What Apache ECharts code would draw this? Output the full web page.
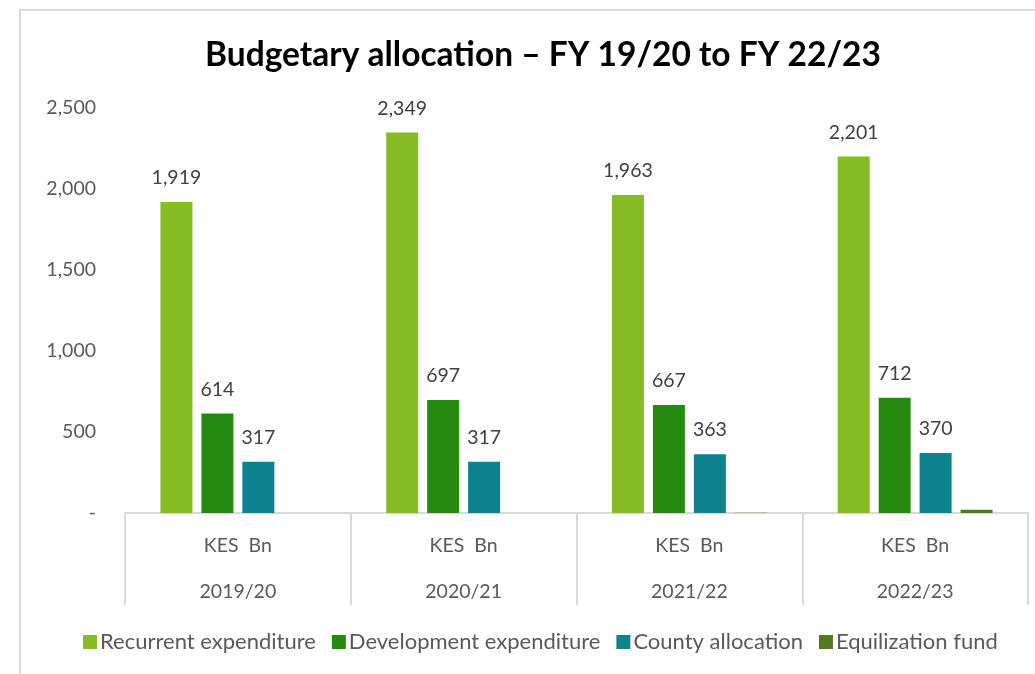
<!DOCTYPE html>
<html>
<head>
<meta charset="utf-8">
<script src="https://cdn.jsdelivr.net/npm/echarts@6/dist/echarts.min.js"></script>
<style>
  html, body { margin: 0; padding: 0; background: #fff; }
  #chart { width: 1035px; height: 674px; }
</style>
</head>
<body>
<div id="chart"></div>
<script>
// Budget figures, KES billions
const years = ['2019/20', '2020/21', '2021/22', '2022/23'];
const unitLabel = 'KES  Bn';
const recurrent = [1919, 2349, 1963, 2201];
const development = [614, 697, 667, 712];
const county = [317, 317, 363, 370];
const equalization = [0, 0, 1, 20];
const yTicks = [0, 500, 1000, 1500, 2000, 2500];

const FONT = 'Lato, "Open Sans", sans-serif';
const fmt = v => v === 0 ? '-' : v.toLocaleString('en-US');

const labelStyle = {
  show: true,
  position: 'top',
  distance: 14,
  color: '#404040',
  fontSize: 19.5,
  fontFamily: FONT,
  formatter: p => fmt(p.value)
};

const chart = echarts.init(document.getElementById('chart'));
chart.setOption({
  animation: false,
  backgroundColor: '#ffffff',
  title: {
    text: 'Budgetary allocation – FY 19/20 to FY 22/23',
    left: 200,
    top: 33,
    textStyle: { fontSize: 33.5, fontWeight: 'bold', color: '#000', fontFamily: FONT }
  },
  graphic: [{
    type: 'rect',
    shape: { x: 20, y: 10, width: 1100, height: 800 },
    style: { fill: 'none', stroke: '#d9d9d9', lineWidth: 2 },
    silent: true, z: -1
  }],
  legend: {
    bottom: 16,
    left: 78,
    itemWidth: 14,
    itemHeight: 14,
    itemGap: 16,
    icon: 'rect',
    textStyle: { fontSize: 22, color: '#595959', fontFamily: FONT, padding: [0, 0, 0, -2] },
    data: ['Recurrent expenditure', 'Development expenditure', 'County allocation', 'Equilization fund']
  },
  grid: { left: 125, right: 7, top: 108, bottom: 161 },
  xAxis: {
    type: 'category',
    data: years,
    axisLine: { lineStyle: { color: '#d9d9d9', width: 2 } },
    axisTick: { show: true, length: 92, lineStyle: { color: '#d9d9d9', width: 2 } },
    axisLabel: {
      margin: 10,
      interval: 0,
      formatter: v => '{u|' + unitLabel + '}\n{y|' + v + '}',
      rich: {
        u: { fontSize: 19.5, color: '#595959', fontFamily: FONT, lineHeight: 46 },
        y: { fontSize: 19.5, color: '#595959', fontFamily: FONT, lineHeight: 46 }
      }
    }
  },
  yAxis: {
    type: 'value',
    min: yTicks[0],
    max: yTicks[yTicks.length - 1],
    interval: 500,
    splitLine: { show: false },
    axisLine: { show: false },
    axisTick: { show: false },
    axisLabel: {
      margin: 29,
      fontSize: 19.5,
      color: '#595959',
      fontFamily: FONT,
      formatter: fmt
    }
  },
  series: [
    { name: 'Recurrent expenditure', type: 'bar', data: recurrent, barWidth: 32, barGap: '28%',
      barCategoryGap: '31%', itemStyle: { color: '#86bc25' }, label: labelStyle },
    { name: 'Development expenditure', type: 'bar', data: development, barWidth: 32,
      itemStyle: { color: '#278a10' }, label: labelStyle },
    { name: 'County allocation', type: 'bar', data: county, barWidth: 32,
      itemStyle: { color: '#0e828e' }, label: labelStyle },
    { name: 'Equilization fund', type: 'bar', data: equalization, barWidth: 32,
      itemStyle: { color: '#54781e' }, label: { show: false } }
  ]
});
</script>
</body>
</html>
